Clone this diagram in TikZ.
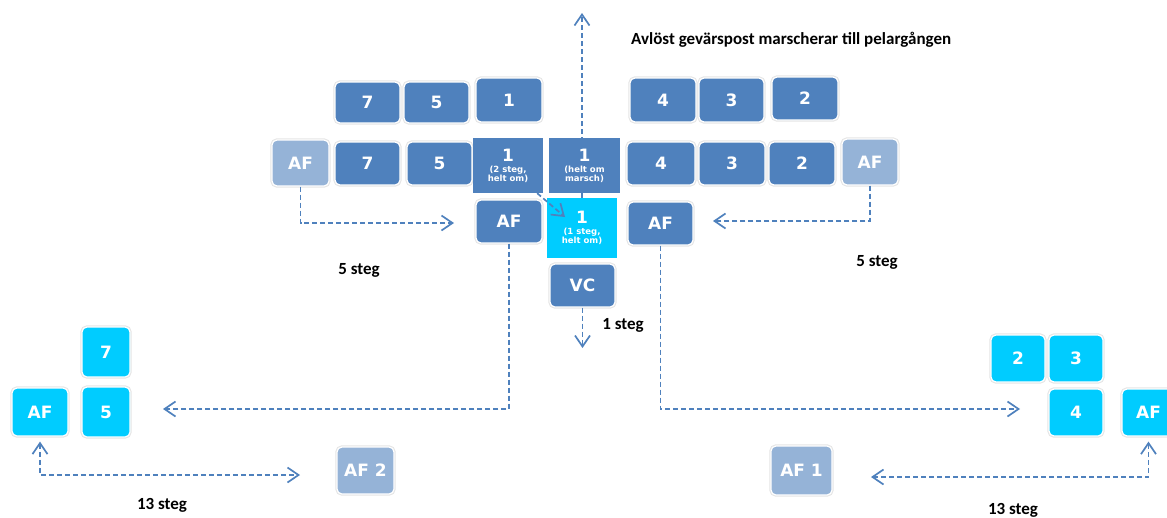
\documentclass[tikz,border=0pt]{standalone}
\usepackage{fontspec}
\usepackage{tikz}
\usetikzlibrary{arrows.meta,backgrounds}
\setmainfont{Carlito}
\newfontfamily\boxfont{DejaVu Sans}
\definecolor{dkblue}{HTML}{4F81BD}
\definecolor{ltblue}{HTML}{95B3D7}
\definecolor{cyanbox}{HTML}{00CCFF}
\newcommand{\bigdigit}{\fontsize{17}{18}\selectfont}

\begin{document}
\begin{tikzpicture}[x=1pt, y=-1pt,
    every node/.style={inner sep=0pt},
    rbox/.style={rounded corners=5pt, draw=white, line width=1.2pt,
        preaction={draw=black!10, line width=3.4pt}, text=white,
        font=\boxfont\bfseries\fontsize{17}{18}\selectfont},
    dbox/.style={rbox, fill=dkblue},
    lbox/.style={rbox, fill=ltblue},
    cbox/.style={rbox, fill=cyanbox},
    sqbox/.style={fill=#1, text=white, align=center,
        font=\boxfont\bfseries\fontsize{8.5}{9}\selectfont},
    lbl/.style={font=\bfseries\fontsize{17}{19}\selectfont},
    dline/.style={draw=dkblue, line width=1.7pt, dash pattern=on 5pt off 3pt},
    >={Straight Barb[length=11pt, width=15pt]}]
    \path[use as bounding box, clip] (0,0) rectangle (1167,517);

    \node[dbox, minimum width=65, minimum height=41] (t7) at (367.5,102.5) {7};
    \node[dbox, minimum width=65, minimum height=41] (t5) at (436.5,102.5) {5};
    \node[dbox, minimum width=66, minimum height=44] (t1) at (509,100) {1};
    \node[dbox, minimum width=66, minimum height=44] (t4) at (663,100) {4};
    \node[dbox, minimum width=65, minimum height=44] (t3) at (731.5,100) {3};
    \node[dbox, minimum width=66, minimum height=43] (t2) at (805,98.5) {2};

    \node[lbox, minimum width=57, minimum height=46] (afL) at (300.5,163) {AF};
    \node[dbox, minimum width=65, minimum height=43] (m7) at (367.5,163.5) {7};
    \node[dbox, minimum width=65, minimum height=43] (m5) at (439.5,163.5) {5};
    \node[sqbox=dkblue, minimum width=70, minimum height=55] (sq1a) at (508,165.5)
        {{\bigdigit 1}\\[2pt](2 steg,\\helt om)};
    \node[sqbox=dkblue, minimum width=71, minimum height=55] (sq1b) at (584.5,165.5)
        {{\bigdigit 1}\\[2pt](helt om\\marsch)};
    \node[dbox, minimum width=68, minimum height=43] (m4) at (661,163.5) {4};
    \node[dbox, minimum width=66, minimum height=43] (m3) at (732,163.5) {3};
    \node[dbox, minimum width=66, minimum height=43] (m2) at (802,163.5) {2};
    \node[lbox, minimum width=56, minimum height=46] (afR) at (870,162) {AF};

    \node[dbox, minimum width=66, minimum height=43] (afA) at (509,221.5) {AF};
    \node[sqbox=cyanbox, minimum width=70, minimum height=60] (cy1) at (582,228)
        {{\bigdigit 1}\\[2pt](1 steg,\\helt om)};
    \node[dbox, minimum width=65, minimum height=43] (afB) at (660.5,223.5) {AF};
    \node[dbox, minimum width=65, minimum height=43] (vc) at (582.5,285.5) {VC};

    \node[cbox, minimum width=48, minimum height=50] (c7) at (106,352) {7};
    \node[cbox, minimum width=48, minimum height=50] (c5) at (106,412) {5};
    \node[cbox, minimum width=56, minimum height=48] (cAF) at (40,412) {AF};
    \node[lbox, minimum width=57, minimum height=47] (af2) at (365.5,470.5) {AF 2};

    \node[cbox, minimum width=54, minimum height=47] (c2) at (1018,358.5) {2};
    \node[cbox, minimum width=54, minimum height=47] (c3) at (1076,358.5) {3};
    \node[cbox, minimum width=54, minimum height=47] (c4) at (1076,412.5) {4};
    \node[cbox, minimum width=53, minimum height=47] (cAFR) at (1148.5,412.5) {AF};
    \node[lbox, minimum width=61, minimum height=49] (af1) at (801.5,470.5) {AF 1};

    \node[lbl, anchor=west] (title) at (631,40) {Avlöst gevärspost marscherar till pelargången};
    \node[lbl] (s5L) at (359,270) {5 steg};
    \node[lbl] (s5R) at (877,262) {5 steg};
    \node[lbl] (s1) at (623,325) {1 steg};
    \node[lbl] (s13L) at (162,505) {13 steg};
    \node[lbl] (s13R) at (1013,510) {13 steg};

    \coordinate (pTop) at (582,13);
    \coordinate (pL) at (454,223);
    \coordinate (pR) at (713,221);
    \coordinate (pDiag) at (565,217);
    \coordinate (pVC) at (582.5,348);
    \coordinate (pLL) at (163,409);
    \coordinate (pRR) at (1020,409);
    \coordinate (pAF2) at (300,475);
    \coordinate (pAF1) at (871,477);

    \begin{scope}[on background layer]
        \draw[dline, ->] (cy1.north) -- (pTop);
    \end{scope}
    \draw[dline, ->] (afL.south) |- (pL);
    \draw[dline, ->] (afR.south) |- (pR);
    \draw[dline, ->] ([xshift=-6]sq1a.south east) -- (pDiag);
    \draw[dline, ->] (vc.south) -- (pVC);
    \draw[dline, ->] (afA.south) |- (pLL);
    \draw[dline, ->] (afB.south) |- (pRR);
    \draw[dline, <->, shorten <=5pt] (cAF.south) |- (pAF2);
    \draw[dline, <->, shorten <=5pt] (cAFR.south) |- (pAF1);
\end{tikzpicture}
\end{document}
